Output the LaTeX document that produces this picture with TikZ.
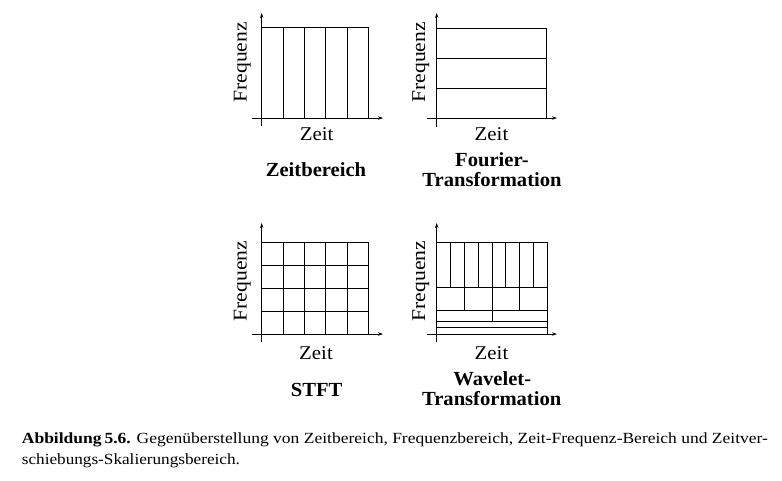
\documentclass[tikz,border=0pt]{standalone}
\usepackage{fontspec}
\setmainfont{Liberation Serif}
\usetikzlibrary{arrows.meta}
\newcommand{\hstretch}[2]{\scalebox{#1}[1]{#2}}
\begin{document}
\begin{tikzpicture}[x=1pt,y=-1pt,
  axis/.style={line width=0.75pt,-{Stealth[length=5pt,width=3.4pt]}},
  gridline/.style={line width=0.75pt},
  lbl/.style={font=\fontsize{19.5}{20}\selectfont,inner sep=0pt,anchor=base},
  ttl/.style={font=\fontsize{20}{20}\selectfont\bfseries,inner sep=0pt,anchor=base},
  captext/.style={font=\fontsize{15.5}{20}\selectfont,inner sep=0pt,anchor=base west}]
\useasboundingbox (0,0) rectangle (782,480);

% ---------- Panel 1: Zeitbereich ----------
\coordinate (p1yb) at (261.7,126);
\coordinate (p1yt) at (261.7,13);
\coordinate (p1xl) at (252,118);
\coordinate (p1xr) at (383,118);
\draw[gridline] (261.7,27.3) rectangle (368.3,118);
\foreach \i in {1,...,4}
  \draw[gridline] ({261.7+\i*21.32},27.3) -- ({261.7+\i*21.32},118);
\draw[axis] (p1yb) -- (p1yt);
\draw[axis] (p1xl) -- (p1xr);
\node[lbl,rotate=90] (f1) at (246.5,62.3) {\hstretch{1.11}{Frequenz}};
\node[lbl] (z1) at (316.7,140) {\hstretch{1.07}{Zeit}};
\node[ttl] (t1) at (316,176.5) {\hstretch{1.03}{Zeitbereich}};

% ---------- Panel 2: Fourier ----------
\coordinate (p2yb) at (436.7,127);
\coordinate (p2yt) at (436.7,13);
\coordinate (p2xl) at (427,118);
\coordinate (p2xr) at (557,118);
\draw[gridline] (436.7,28.3) rectangle (546,118);
\foreach \j in {1,2}
  \draw[gridline] (436.7,{28.3+\j*29.9}) -- (546,{28.3+\j*29.9});
\draw[axis] (p2yb) -- (p2yt);
\draw[axis] (p2xl) -- (p2xr);
\node[lbl,rotate=90] (f2) at (425.2,62.3) {\hstretch{1.11}{Frequenz}};
\node[lbl] (z2) at (491.5,140) {\hstretch{1.07}{Zeit}};
\node[ttl] (t2a) at (492,166.5) {\hstretch{1.03}{Fourier-}};
\node[ttl] (t2b) at (492,186.5) {\hstretch{1.03}{Transformation}};

% ---------- Panel 3: STFT ----------
\coordinate (p3yb) at (261.7,341.7);
\coordinate (p3yt) at (261.7,223);
\coordinate (p3xl) at (252,334);
\coordinate (p3xr) at (383,334);
\draw[gridline] (261.7,242.7) rectangle (368.3,334);
\foreach \i in {1,...,4}
  \draw[gridline] ({261.7+\i*21.32},242.7) -- ({261.7+\i*21.32},334);
\foreach \j in {1,2,3}
  \draw[gridline] (261.7,{242.7+\j*22.83}) -- (368.3,{242.7+\j*22.83});
\draw[axis] (p3yb) -- (p3yt);
\draw[axis] (p3xl) -- (p3xr);
\node[lbl,rotate=90] (f3) at (246.5,281) {\hstretch{1.11}{Frequenz}};
\node[lbl] (z3) at (316,359.3) {\hstretch{1.07}{Zeit}};
\node[ttl] (t3) at (316.7,396.7) {\hstretch{1.03}{STFT}};

% ---------- Panel 4: Wavelet ----------
\coordinate (p4yb) at (436.7,341.7);
\coordinate (p4yt) at (436.7,223);
\coordinate (p4xl) at (427,334);
\coordinate (p4xr) at (557,334);
\draw[gridline] (436.7,242.3) rectangle (547.3,334);
\draw[gridline] (436.7,287.3) -- (547.3,287.3);
\draw[gridline] (436.7,310) -- (547.3,310);
\draw[gridline] (436.7,321) -- (547.3,321);
\draw[gridline] (436.7,327.7) -- (547.3,327.7);
\foreach \i in {1,...,7}
  \draw[gridline] ({436.7+\i*13.825},242.3) -- ({436.7+\i*13.825},287.3);
\foreach \i in {1,2,3}
  \draw[gridline] ({436.7+\i*27.65},287.3) -- ({436.7+\i*27.65},310);
\draw[gridline] (492,310) -- (492,321);
\draw[axis] (p4yb) -- (p4yt);
\draw[axis] (p4xl) -- (p4xr);
\node[lbl,rotate=90] (f4) at (425.2,281) {\hstretch{1.11}{Frequenz}};
\node[lbl] (z4) at (491.5,359) {\hstretch{1.07}{Zeit}};
\node[ttl] (t4a) at (492.3,385) {\hstretch{1.03}{Wavelet-}};
\node[ttl] (t4b) at (491.7,405) {\hstretch{1.03}{Transformation}};

% ---------- Caption ----------
\node[captext] (c1) at (21.7,443) {\resizebox{746pt}{\height}{\textbf{Abbildung\,5.6.} Gegenüberstellung von Zeitbereich, Frequenzbereich, Zeit-Frequenz-Bereich und Zeitver-}};
\node[captext] (c2) at (21.7,464) {\resizebox{218pt}{\height}{schiebungs-Skalierungsbereich.}};
\end{tikzpicture}
\end{document}
